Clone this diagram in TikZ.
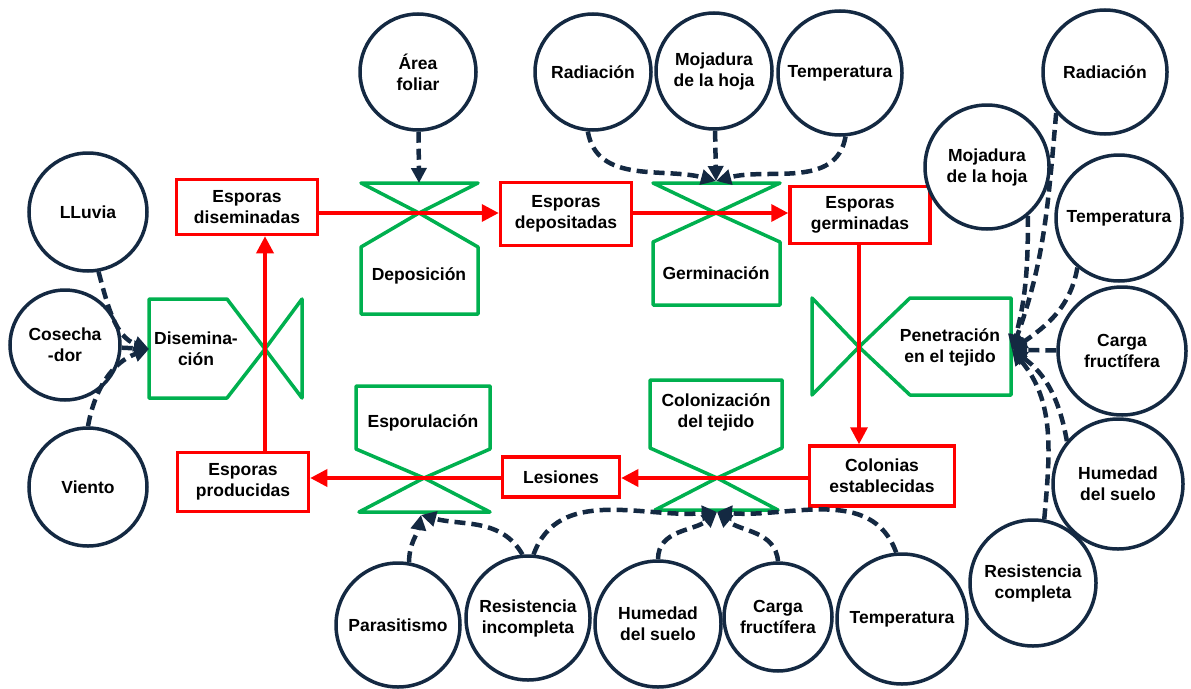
\documentclass[tikz,border=0pt]{standalone}
\usepackage{fontspec}
\setmainfont{Liberation Sans}
\usetikzlibrary{arrows.meta}
\definecolor{FlowClr}{rgb}{1,0,0}
\definecolor{ValveClr}{rgb}{0,0.69,0.31}
\definecolor{FactorClr}{rgb}{0.08,0.16,0.26}

\begin{document}
\begin{tikzpicture}[x=1pt,y=1pt,
  font=\fontsize{17.5}{21}\selectfont\bfseries,
  stock/.style={draw=FlowClr,line width=3.5pt,fill=white,align=center,inner sep=0pt},
  valve/.style={draw=ValveClr,line width=3.5pt,line join=round},
  factor/.style={circle,draw=FactorClr,line width=3.5pt,fill=white,align=center,inner sep=0pt,minimum size=#1},
  factor/.default=120pt,
  flow/.style={draw=FlowClr,line width=3.5pt,-{Triangle[length=17pt,width=17pt]}},
  infl/.style={draw=FactorClr,line width=4.5pt,dash pattern=on 11pt off 6pt,-{Triangle[length=15pt,width=15pt]}}]
\useasboundingbox (0,0) rectangle (1191,-688);

% crossing points of the valves
\coordinate (cDis) at (265,-349);
\coordinate (cDep) at (419,-213);
\coordinate (cGer) at (716,-213);
\coordinate (cPen) at (859,-347);
\coordinate (cCol) at (717,-478);
\coordinate (cEsp) at (424,-478);

% valves
\draw[valve] (149,-299) -- (227,-299) -- (cDis) -- (227,-398) -- (149,-398) -- cycle;
\draw[valve] (cDis) -- (302,-299) -- (302,-398) -- cycle;
\draw[valve] (361,-183) -- (478,-183) -- (cDep) -- cycle;
\draw[valve] (cDep) -- (478,-247) -- (478,-314) -- (361,-314) -- (361,-247) -- cycle;
\draw[valve] (653,-183) -- (780,-183) -- (cGer) -- cycle;
\draw[valve] (cGer) -- (780,-242) -- (780,-305) -- (653,-305) -- (653,-242) -- cycle;
\draw[valve] (812,-298) -- (812,-395) -- (cPen) -- cycle;
\draw[valve] (cPen) -- (910,-298) -- (1011,-298) -- (1011,-395) -- (910,-395) -- cycle;
\draw[valve] (650,-380) -- (782,-380) -- (782,-448) -- (cCol) -- (650,-448) -- cycle;
\draw[valve] (cCol) -- (778,-510) -- (655,-510) -- cycle;
\draw[valve] (356,-386) -- (490,-386) -- (490,-449) -- (cEsp) -- (356,-449) -- cycle;
\draw[valve] (cEsp) -- (490,-512) -- (359,-512) -- cycle;

\node[align=center] (lDis) at (196,-349) {Disemina-\\ción};
\node (lDep) at (419,-276) {Deposición};
\node (lGer) at (716,-273) {Germinación};
\node[align=center] (lPen) at (950,-347) {Penetración\\en el tejido};
\node[align=center] (lCol) at (716,-412) {Colonización\\del tejido};
\node (lEsp) at (423,-423) {Esporulación};

% stocks
\node[stock,minimum width=141pt,minimum height=55pt] (disem) at (247,-207) {Esporas\\diseminadas};
\node[stock,minimum width=131pt,minimum height=63pt] (depos) at (566,-214) {Esporas\\depositadas};
\node[stock,minimum width=140pt,minimum height=57pt] (germ) at (860,-215) {Esporas\\germinadas};
\node[stock,minimum width=145pt,minimum height=60pt] (colon) at (882,-476) {Colonias\\establecidas};
\node[stock,minimum width=117pt,minimum height=40pt] (lesion) at (561,-477) {Lesiones};
\node[stock,minimum width=131pt,minimum height=59pt] (prod) at (243,-482) {Esporas\\producidas};

\draw[flow] (prod.north -| cDis) -- (disem.south -| cDis);
\draw[flow] (disem.east |- cDep) -- (depos.west |- cDep);
\draw[flow] (depos.east |- cGer) -- (germ.west |- cGer);
\draw[flow] (germ.south -| cPen) -- (colon.north -| cPen);
\draw[flow] (colon.west |- cCol) -- (lesion.east |- cCol);
\draw[flow] (lesion.west |- cEsp) -- (prod.east |- cEsp);

% factors
\node[factor=118pt] (lluvia) at (88,-212) {LLuvia};
\node[factor=110pt] (cosecha) at (65,-345) {Cosecha\\-dor};
\node[factor=118pt] (viento) at (88,-487) {Viento};
\node[factor=116pt] (area) at (418,-72) {Área\\foliar};
\node[factor=116pt] (radT) at (593,-72) {Radiación};
\node[factor=116pt] (mojT) at (714,-71) {Mojadura\\de la hoja};
\node[factor=124pt] (tempT) at (840,-73) {Temperatura};
\node[factor=124pt] (radR) at (1105,-72) {Radiación};
\node[factor=124pt] (mojR) at (987,-167) {Mojadura\\de la hoja};
\node[factor=126pt] (tempR) at (1119,-218) {Temperatura};
\node[factor=128pt] (cargaR) at (1122,-351) {Carga\\fructífera};
\node[factor=130pt] (humR) at (1118,-484) {Humedad\\del suelo};
\node[factor=126pt] (resR) at (1033,-583) {Resistencia\\completa};
\node[factor=124pt] (para) at (398,-625) {Parasitismo};
\node[factor=124pt] (resI) at (528,-618) {Resistencia\\incompleta};
\node[factor=126pt] (humB) at (658,-624) {Humedad\\del suelo};
\node[factor=108pt] (cargaB) at (778,-617) {Carga\\fructífera};
\node[factor=130pt] (tempB) at (902,-619) {Temperatura};

% influences
\coordinate (tDis) at (149,-349);
\coordinate (tDep) at (419,-183);
\coordinate (tGer) at (716,-181);
\coordinate (tPen) at (1012,-350);
\coordinate (tEsp) at (421,-515);
\coordinate (tCol) at (717,-512);

\draw[infl] (lluvia.-80) to[out=-75,in=160] (tDis);
\draw[infl] (cosecha) -- (tDis);
\draw[infl] (viento.90) to[out=80,in=200] (tDis);

\draw[infl] (area) -- (tDep);
\draw[infl] (radT.-95) to[out=-80,in=165] (tGer);
\draw[infl] (mojT) -- (tGer);
\draw[infl] (tempT.-85) to[out=-100,in=15] (tGer);

\draw[infl] (radR.-140) to[out=-95,in=70] (tPen);
\draw[infl] (mojR.-50) to[out=-90,in=75] (tPen);
\draw[infl] (tempR.-130) to[out=-100,in=35] (tPen);
\draw[infl] (cargaR) -- (tPen);
\draw[infl] (humR.140) to[out=100,in=-35] (tPen);
\draw[infl] (resR.80) to[out=85,in=-50] (tPen);

\draw[infl] (para.80) to[out=90,in=-100] (tEsp);
\draw[infl] (resI.95) to[out=120,in=-15] (tEsp);
\draw[infl] (resI.85) to[out=70,in=185] (tCol);
\draw[infl] (humB.90) to[out=90,in=-140] (tCol);
\draw[infl] (cargaB.90) to[out=95,in=-40] (tCol);
\draw[infl] (tempB.95) to[out=110,in=-5] (tCol);
\end{tikzpicture}
\end{document}
